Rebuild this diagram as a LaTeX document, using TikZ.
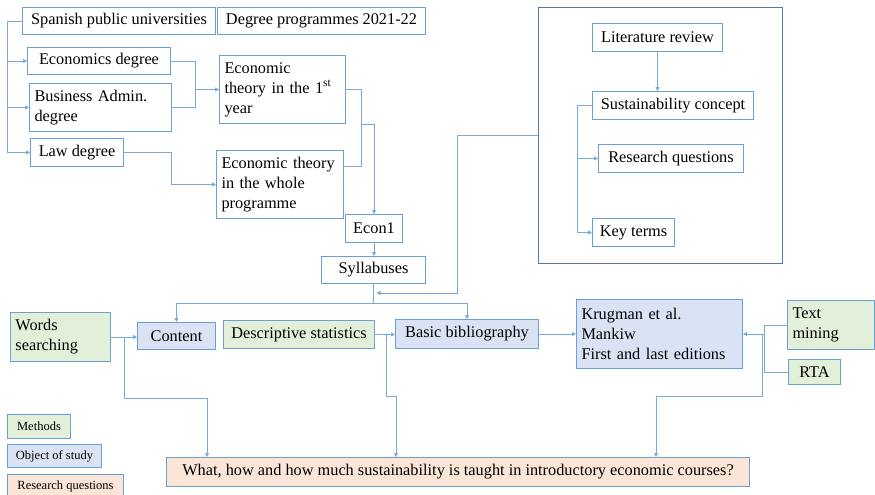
\documentclass[tikz,border=0pt]{standalone}
\usepackage{fontspec}
\setmainfont{Liberation Serif}
\usetikzlibrary{positioning,arrows.meta}

\definecolor{linkblue}{RGB}{120,170,220}
\definecolor{edgeblue}{RGB}{105,160,215}
\definecolor{frameblue}{RGB}{85,120,170}
\definecolor{methodfill}{RGB}{226,240,217}
\definecolor{objectfill}{RGB}{218,227,243}
\definecolor{questionfill}{RGB}{251,229,214}

\tikzset{
  box/.style={draw=edgeblue, line width=1pt, anchor=north west, inner xsep=5pt, inner ysep=0pt},
  wrapbox/.style={box, align=left},
  method/.style={fill=methodfill},
  object/.style={fill=objectfill},
  question/.style={fill=questionfill},
  link/.style={draw=linkblue, line width=0.8pt},
  flow/.style={link, -{Triangle[length=4pt,width=4pt]}},
  legend/.style={box, font=\fontsize{12.5}{14}\selectfont},
}

\begin{document}
\begin{tikzpicture}[x=1pt, y=-1pt, font=\fontsize{16.3}{20}\selectfont]
  \fill[white] (0,0) rectangle (875,495);
  \useasboundingbox (0,0) rectangle (875,495);

  % Universities and degrees
  \node[box, minimum width=193, minimum height=27] (univ) at (22,7) {Spanish public universities};
  \node[box, minimum width=208, minimum height=27] (progs) at (217,7) {Degree programmes 2021-22};
  \node[box, minimum width=143, minimum height=27] (econdeg) at (27,47) {Economics degree};
  \node[wrapbox, text width=132pt, minimum height=48] (busdeg) at (29,83) {Business Admin.\\degree};
  \node[box, minimum width=93, minimum height=28] (lawdeg) at (30,138) {Law degree};
  \node[wrapbox, text width=116pt, minimum height=68] (theory1) at (219,55) {Economic\\theory in the 1\textsuperscript{st}\\year};
  \node[wrapbox, text width=117pt, minimum height=68] (theoryall) at (216,150) {Economic theory\\in the whole\\programme};
  \node[box, minimum width=57, minimum height=28] (econone) at (345,214) {Econ1};
  \node[box, minimum width=104, minimum height=27] (syllab) at (321,256) {Syllabuses};

  % Literature review frame
  \node[draw=frameblue, line width=1.2pt, anchor=north west, minimum width=244, minimum height=256, inner sep=0pt] (litframe) at (538,7) {};
  \node[box, minimum width=130, minimum height=28] (litrev) at (592,23) {Literature review};
  \node[box, minimum width=161, minimum height=28] (sustain) at (592,91) {Sustainability concept};
  \node[box, minimum width=145, minimum height=28] (resq) at (598,144) {Research questions};
  \node[box, minimum width=82, minimum height=28] (keyterms) at (592,218) {Key terms};

  % Methods and objects of study
  \node[wrapbox, method, text width=90pt, minimum height=49] (words) at (10,312) {Words\\searching};
  \node[box, object, minimum width=78, minimum height=27] (content) at (137,322) {Content};
  \node[box, method, minimum width=151, minimum height=28] (descstat) at (223,320) {Descriptive statistics};
  \node[box, object, minimum width=143, minimum height=29] (basicbib) at (395,319) {Basic bibliography};
  \node[wrapbox, object, text width=156pt, minimum height=69] (books) at (576,299) {Krugman et al.\\Mankiw\\First and last editions};
  \node[wrapbox, method, text width=77pt, minimum height=49] (textmin) at (787,300) {Text\\mining};
  \node[box, method, minimum width=52, minimum height=25] (rta) at (788,359) {RTA};

  % Research question
  \node[box, question, minimum width=583, minimum height=29] (rq) at (166,457) {What, how and how much sustainability is taught in introductory economic courses?};

  % Legend
  \node[legend, method, minimum width=63, minimum height=24] (legmethod) at (7,414) {Methods};
  \node[legend, object, minimum width=94, minimum height=23] (legobject) at (7,444) {Object of study};
  \node[legend, question, minimum width=116, minimum height=24] (legquestion) at (7,474) {Research questions};

  % Degrees
  \coordinate (spine) at ([xshift=-15pt]univ.west);
  \draw[link] (univ.west) -- (spine);
  \draw[flow] (spine) |- (econdeg.west);
  \draw[flow] (spine) |- (busdeg.west);
  \draw[flow] (spine) |- (lawdeg.west);
  \coordinate (degjoin) at ([xshift=-24pt]theory1.west);
  \draw[link] (econdeg.east) -| (degjoin);
  \draw[link] (busdeg.east) -| (degjoin);
  \draw[flow] (degjoin) -- (theory1.west);
  \draw[flow] (lawdeg.east) -- ++(47,0) |- (theoryall.west);

  % Down to the syllabuses
  \coordinate (themejoin) at ([xshift=15pt]theory1.east);
  \draw[link] (theory1.east) -- (themejoin) |- ([yshift=18pt]theoryall.east);
  \draw[flow] ([yshift=-35pt]themejoin) -| (econone.north);
  \draw[flow] (econone.south) -- (econone.south |- syllab.north);
  \coordinate (split) at ([yshift=-19pt]syllab.south);
  \draw[link] (syllab.south) -- (split);
  \draw[flow] (split) -| (content.north);
  \draw[flow] (split) -| (basicbib.north);

  % Literature review
  \coordinate (litin) at ([xshift=3pt, yshift=-9pt]syllab.south);
  \draw[flow] (litframe.west) -- ++(-81,0) |- (litin);
  \draw[flow] (litrev.south) -- (litrev.south |- sustain.north);
  \coordinate (termsjoin) at ([xshift=-15pt]sustain.west);
  \draw[flow] (sustain.west) -- (termsjoin) |- (keyterms.west);
  \draw[flow] (termsjoin) |- (resq.west);

  % Towards the research question
  \draw[flow] (words.east) -- (words.east -| content.west);
  \draw[flow] ([xshift=13pt]words.east) -- ++(0,61) -| ([xshift=41pt]rq.north west);
  \draw[flow] (descstat.east) -- (descstat.east -| basicbib.west);
  \draw[flow] ([xshift=11pt]descstat.east) -- ++(0,62) -| ([xshift=230pt]rq.north west);
  \draw[flow] (basicbib.east) -- (basicbib.east -| books.west);
  \coordinate (minejoin) at ([xshift=-23pt]textmin.west);
  \draw[link] (textmin.west) -- (minejoin) |- (rta.west);
  \draw[flow] (minejoin |- books.east) -- (books.east);
  \draw[flow] ([xshift=19pt]books.east) -- ++(0,62.5) -| ([xshift=490pt]rq.north west);
\end{tikzpicture}
\end{document}
